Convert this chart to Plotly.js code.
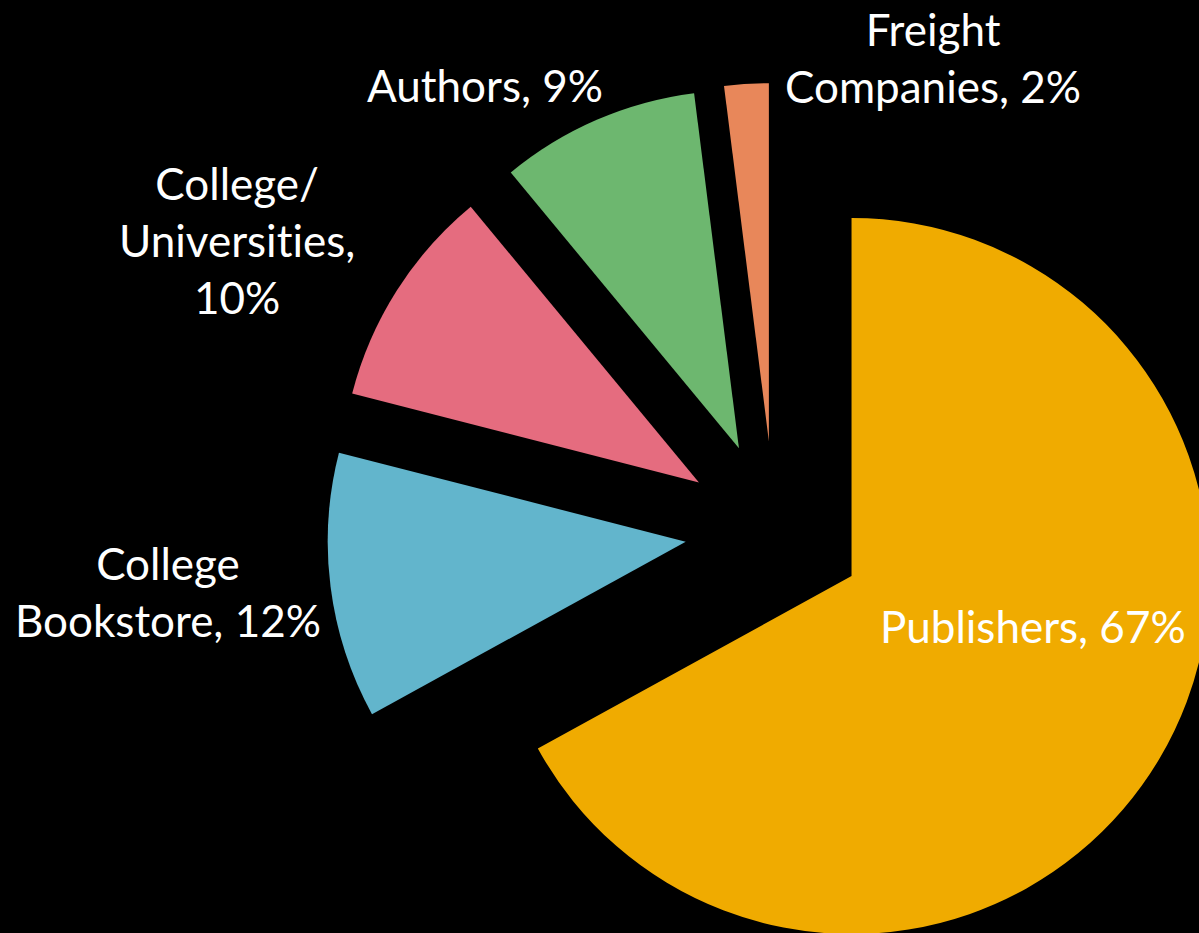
<!DOCTYPE html>
<html>
<head>
<meta charset="utf-8">
<script src="https://cdn.plot.ly/plotly-3.0.1.min.js"></script>
<style>
  html, body { margin: 0; padding: 0; background: #000; overflow: hidden; width: 1199px; height: 933px; }
  #chart { width: 1250px; height: 1000px; }
  svg text { font-variant-ligatures: none; font-feature-settings: "liga" 0, "clig" 0; }
</style>
</head>
<body>
<div id="chart"></div>
<script>
// ---- data ----
var categories = ['Publishers', 'College Bookstore', 'College/ Universities', 'Authors', 'Freight Companies'];
var shares = [67, 12, 10, 9, 2];
var labelNames = ['Publishers', 'College<br>Bookstore', 'College/<br>Universities', 'Authors', 'Freight<br>Companies'];
var labelSeparators = [', ', ', ', ',<br>', ', ', ', '];
var sliceColors = ['#F0AB00', '#62B5CC', '#E56C7F', '#6DB76F', '#E8875A'];

// ---- layout geometry ----
var W = 1250, H = 1000;
var M = { l: 327, r: 28, t: 83, b: 22 };
var plotW = W - M.l - M.r, plotH = H - M.t - M.b;
function px(x) { return (x - M.l) / plotW; }
function py(y) { return 1 - (y - M.t) / plotH; }

// label centres (pixels)
var labelPos = [
  [1033, 626],
  [168, 591],
  [237, 240],
  [485, 85],
  [933, 58]
];

var annotations = categories.map(function (c, i) {
  return {
    xref: 'paper', yref: 'paper',
    x: px(labelPos[i][0]), y: py(labelPos[i][1]),
    xanchor: 'center', yanchor: 'middle',
    text: labelNames[i] + labelSeparators[i] + shares[i] + '%',
    showarrow: false,
    align: 'center',
    font: { family: 'Lato, "Open Sans", sans-serif', size: 44, color: '#FFFFFF' }
  };
});

var trace = {
  type: 'pie',
  labels: categories,
  values: shares,
  sort: false,
  direction: 'clockwise',
  rotation: 0,
  pull: shares.map(function () { return 0.25; }),
  marker: { colors: sliceColors, line: { width: 0 } },
  textinfo: 'none',
  hoverinfo: 'none',
  domain: { x: [0, 1], y: [0, 1] }
};

var layout = {
  width: W, height: H,
  margin: M,
  paper_bgcolor: '#000000',
  plot_bgcolor: '#000000',
  showlegend: false,
  annotations: annotations
};

Plotly.newPlot('chart', [trace], layout, { staticPlot: true, displayModeBar: false });
</script>
</body>
</html>
